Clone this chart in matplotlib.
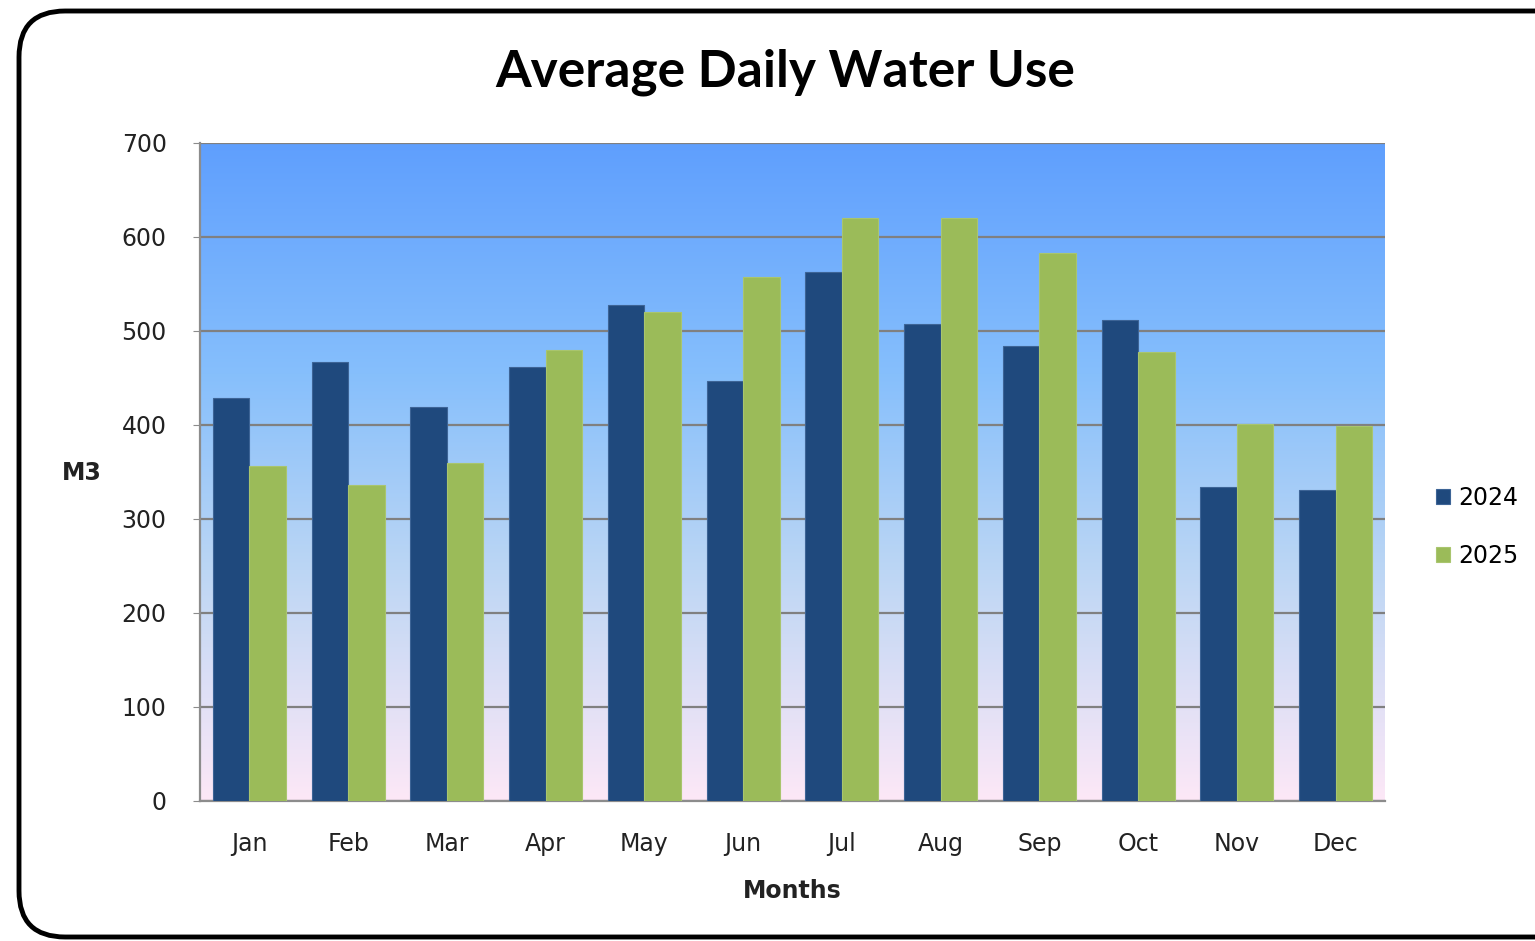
import numpy as np
import matplotlib.pyplot as plt
from matplotlib.patches import FancyBboxPatch
from matplotlib.colors import LinearSegmentedColormap

months = ["Jan", "Feb", "Mar", "Apr", "May", "Jun",
          "Jul", "Aug", "Sep", "Oct", "Nov", "Dec"]
use_2024 = [429, 467, 419, 462, 528, 447, 563, 507, 484, 512, 334, 331]
use_2025 = [356, 336, 360, 480, 520, 557, 620, 620, 583, 478, 401, 399]
y_ticks = [0, 100, 200, 300, 400, 500, 600, 700]

fig = plt.figure(figsize=(15.35, 9.41), dpi=100)

# rounded frame around the chart (runs off the right edge)
frame = FancyBboxPatch((19 / 1535, 4 / 941), 1600 / 1535, 926 / 941,
                       boxstyle="round,pad=0,rounding_size=0.03",
                       transform=fig.transFigure, facecolor="white",
                       edgecolor="black", linewidth=3.5, zorder=0,
                       mutation_aspect=1535 / 941)
fig.patches.append(frame)

ax = fig.add_axes([200 / 1535, 1 - 801 / 941, 1185 / 1535, 658 / 941])
ax.set_zorder(1)

# gradient background, blue at the top to pale pink at the bottom
grad = LinearSegmentedColormap.from_list(
    "bg", [(0.0, "#fde8f7"), (0.35, "#bcd6f4"), (0.65, "#86bffc"), (1.0, "#5f9ffe")])
ax.imshow(np.linspace(0, 1, 256).reshape(-1, 1), cmap=grad, aspect="auto",
          extent=[0, 1, 0, 1], transform=ax.transAxes, origin="lower", zorder=0)

x = np.arange(len(months))
w = 0.37
ax.bar(x - w / 2, use_2024, w, color="#1f497d", edgecolor="#3d6496",
       linewidth=0.8, label="2024", zorder=3)
ax.bar(x + w / 2, use_2025, w, color="#9bbb59", edgecolor="#a9c56e",
       linewidth=0.8, label="2025", zorder=3)

ax.set_xlim(-0.5, len(months) - 0.5)
ax.set_ylim(0, 700)
ax.set_yticks(y_ticks)
ax.set_xticks(x)
ax.set_xticklabels(months)
ax.yaxis.grid(True, color="#808080", linewidth=1.6, zorder=1)
ax.set_axisbelow(True)

for s in ["top", "right"]:
    ax.spines[s].set_visible(False)
for s in ["left", "bottom"]:
    ax.spines[s].set_color("#8c8c8c")
    ax.spines[s].set_linewidth(1.6)

ax.tick_params(axis="y", labelsize=17, length=5, color="#8c8c8c",
               pad=19, labelcolor="#222222")
ax.tick_params(axis="x", labelsize=17, length=0, pad=22, labelcolor="#222222")

ax.set_xlabel("Months", fontsize=17, fontweight="bold", labelpad=17,
              color="#222222")
ax.set_ylabel("M3", fontsize=17, fontweight="bold", rotation=0,
              color="#222222", ha="center", va="center")
ax.yaxis.set_label_coords(-0.0996, 0.4985)

fig.text(785 / 1535, 1 - 72 / 941, "Average Daily Water Use", ha="center",
         va="center", fontsize=37, fontweight="bold", family="Lato",
         color="black")

fig.legend(loc="center left", bbox_to_anchor=(1424 / 1535, 1 - 527 / 941),
           frameon=False, fontsize=17, handlelength=0.6, handleheight=0.6,
           labelspacing=1.45, handletextpad=0.35, borderpad=0)

fig.savefig("out.png", dpi=100)
